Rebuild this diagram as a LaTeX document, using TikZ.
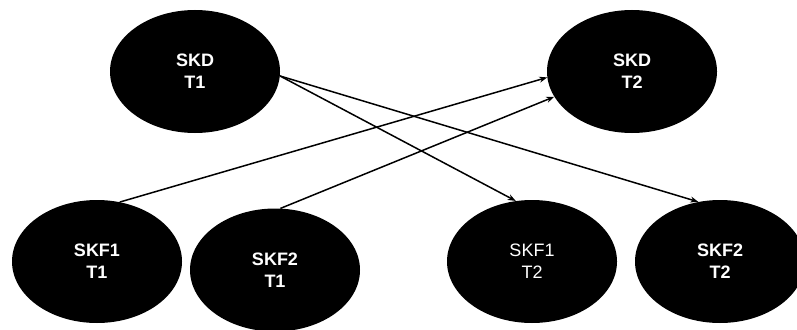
\documentclass[tikz,border=0pt]{standalone}
\usepackage{fontspec}
\setmainfont{Liberation Sans}
\usetikzlibrary{shapes.geometric,arrows.meta}
\tikzset{
  blob/.style={ellipse, fill=black, draw=none, minimum width=170pt, minimum height=123pt,
    inner sep=0pt, text=white, align=center, font=\fontsize{18pt}{22pt}\selectfont\bfseries},
  blobplain/.style={blob, font=\fontsize{18pt}{22pt}\selectfont},
  link/.style={line width=1.5pt, -{Stealth[length=8pt,width=6pt]}}
}
\begin{document}
\begin{tikzpicture}[x=1pt,y=-1pt]
\useasboundingbox (0,0) rectangle (797,329);
\node[blob] (skd1) at (195,71.5) {SKD\\T1};
\node[blob] (skd2) at (632,71.5) {SKD\\T2};
\node[blob] (skf11) at (97,261.5) {SKF1\\T1};
\node[blob] (skf21) at (275,270) {SKF2\\T1};
\node[blobplain] (skf12) at (532,261.5) {SKF1\\T2};
\node[blob] (skf22) at (720,261.5) {SKF2\\T2};
\draw[link] (skd1.-3.8) -- (skf12.105);
\draw[link] (skd1.-3.8) -- (skf22.110.5);
\draw[link] (skf11.69.5) -- (skd2.-176.3);
\draw[link] (skf21.85) -- (skd2.198.8);
\end{tikzpicture}
\end{document}
